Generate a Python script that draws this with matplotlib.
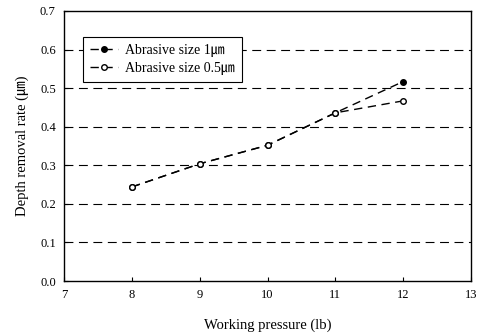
import matplotlib.pyplot as plt

# data
pressure = [8, 9, 10, 11, 12]
rate_1um = [0.244, 0.304, 0.352, 0.436, 0.517]
rate_05um = [0.244, 0.304, 0.352, 0.436, 0.467]
labels = ['Abrasive size 1㎛', 'Abrasive size 0.5㎛']

plt.rcParams['font.family'] = ['Liberation Serif', 'Noto Sans CJK KR']

fig = plt.figure(figsize=(4.79, 3.33), dpi=100)
ax = fig.add_axes([0.134, 0.156, 0.849, 0.811])

ax.plot(pressure, rate_1um, linestyle=(0, (6, 4)), color='black', linewidth=1,
        marker='o', markersize=4, markerfacecolor='black', label=labels[0])
ax.plot(pressure, rate_05um, linestyle=(0, (6, 4)), color='black', linewidth=1,
        marker='o', markersize=4, markerfacecolor='white', label=labels[1])

# dashed horizontal grid
for y in [0.1, 0.2, 0.3, 0.4, 0.5, 0.6]:
    ax.axhline(y, color='black', linestyle=(0, (8, 5)), linewidth=0.8, zorder=0)

ax.set_xlim(7, 13)
ax.set_ylim(0, 0.7)
ax.set_xticks(range(7, 14))
ax.set_yticks([0, 0.1, 0.2, 0.3, 0.4, 0.5, 0.6, 0.7])
ax.set_yticklabels([f'{v:.1f}' for v in ax.get_yticks()])
ax.tick_params(direction='in', length=3, labelsize=9, width=0.8, pad=6)
for s in ax.spines.values():
    s.set_linewidth(1)

ax.set_xlabel('Working pressure (lb)', fontsize=10.5, labelpad=12)
ax.set_ylabel('Depth removal rate (㎛)', fontsize=10.5, labelpad=8)

leg = ax.legend(loc='upper left', bbox_to_anchor=(0.03, 0.93), fontsize=10,
                frameon=True, fancybox=False, edgecolor='black', framealpha=1,
                handlelength=2.0, handletextpad=0.5, borderpad=0.5,
                labelspacing=0.4)
leg.get_frame().set_linewidth(0.8)

fig.savefig('out.png', dpi=100)
